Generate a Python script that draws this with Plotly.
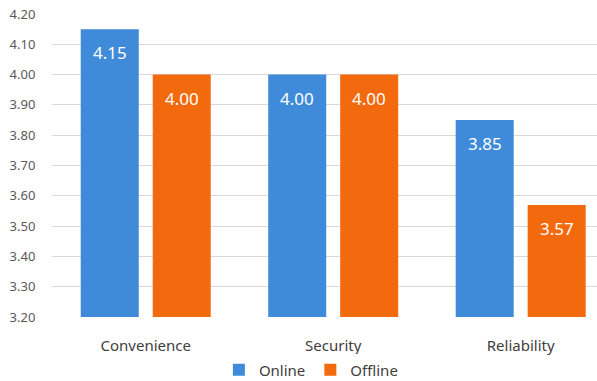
import plotly.graph_objects as go

categories = ["Convenience", "Security", "Reliability"]
online = [4.15, 4.00, 3.85]
offline = [4.00, 4.00, 3.57]

BLUE = "#3f8bd9"
ORANGE = "#f26a0d"
FONT = "Noto Sans"

fig = go.Figure()
fig.add_trace(go.Bar(name="Online", x=categories, y=online,
                     marker=dict(color=BLUE, line=dict(width=0))))
fig.add_trace(go.Bar(name="Offline", x=categories, y=offline,
                     marker=dict(color=ORANGE, line=dict(width=0))))

# value labels inside the top of each bar
for i, cat in enumerate(categories):
    for series, off in ((online, -0.5), (offline, 0.5)):
        fig.add_annotation(
            x=i, y=series[i], xref="x", yref="y",
            text=f"{series[i]:.2f}", showarrow=False,
            xshift=off * 72, yanchor="top", yshift=-10,
            font=dict(family=FONT, size=17, color="white"),
        )

fig.update_layout(
    width=597, height=381,
    margin=dict(l=52, r=0, t=14, b=64, autoexpand=False),
    plot_bgcolor="white", paper_bgcolor="white",
    barmode="group", bargap=0.232, bargroupgap=0.194,
    showlegend=True,
    legend=dict(orientation="h", x=0.475, xanchor="center", y=-0.175, yanchor="middle",
                font=dict(family=FONT, size=15, color="#404040"),
                itemwidth=30, tracegroupgap=0),
    font=dict(family=FONT, color="#595959"),
)
fig.update_xaxes(
    range=[-0.5, 2.407], showgrid=False, showline=False, zeroline=False,
    ticks="outside", ticklen=15, tickcolor="rgba(0,0,0,0)",
    tickfont=dict(family=FONT, size=15, color="#404040"),
    automargin=False,
)
fig.update_yaxes(
    range=[3.2, 4.2], dtick=0.1, tick0=3.2, tickformat=".2f",
    showgrid=True, gridcolor="#d9d9d9", gridwidth=1, zeroline=False, showline=False,
    ticks="outside", ticklen=13, tickcolor="rgba(0,0,0,0)",
    tickfont=dict(family=FONT, size=13, color="#595959"),
    automargin=False,
)

fig.write_html("out.html")
